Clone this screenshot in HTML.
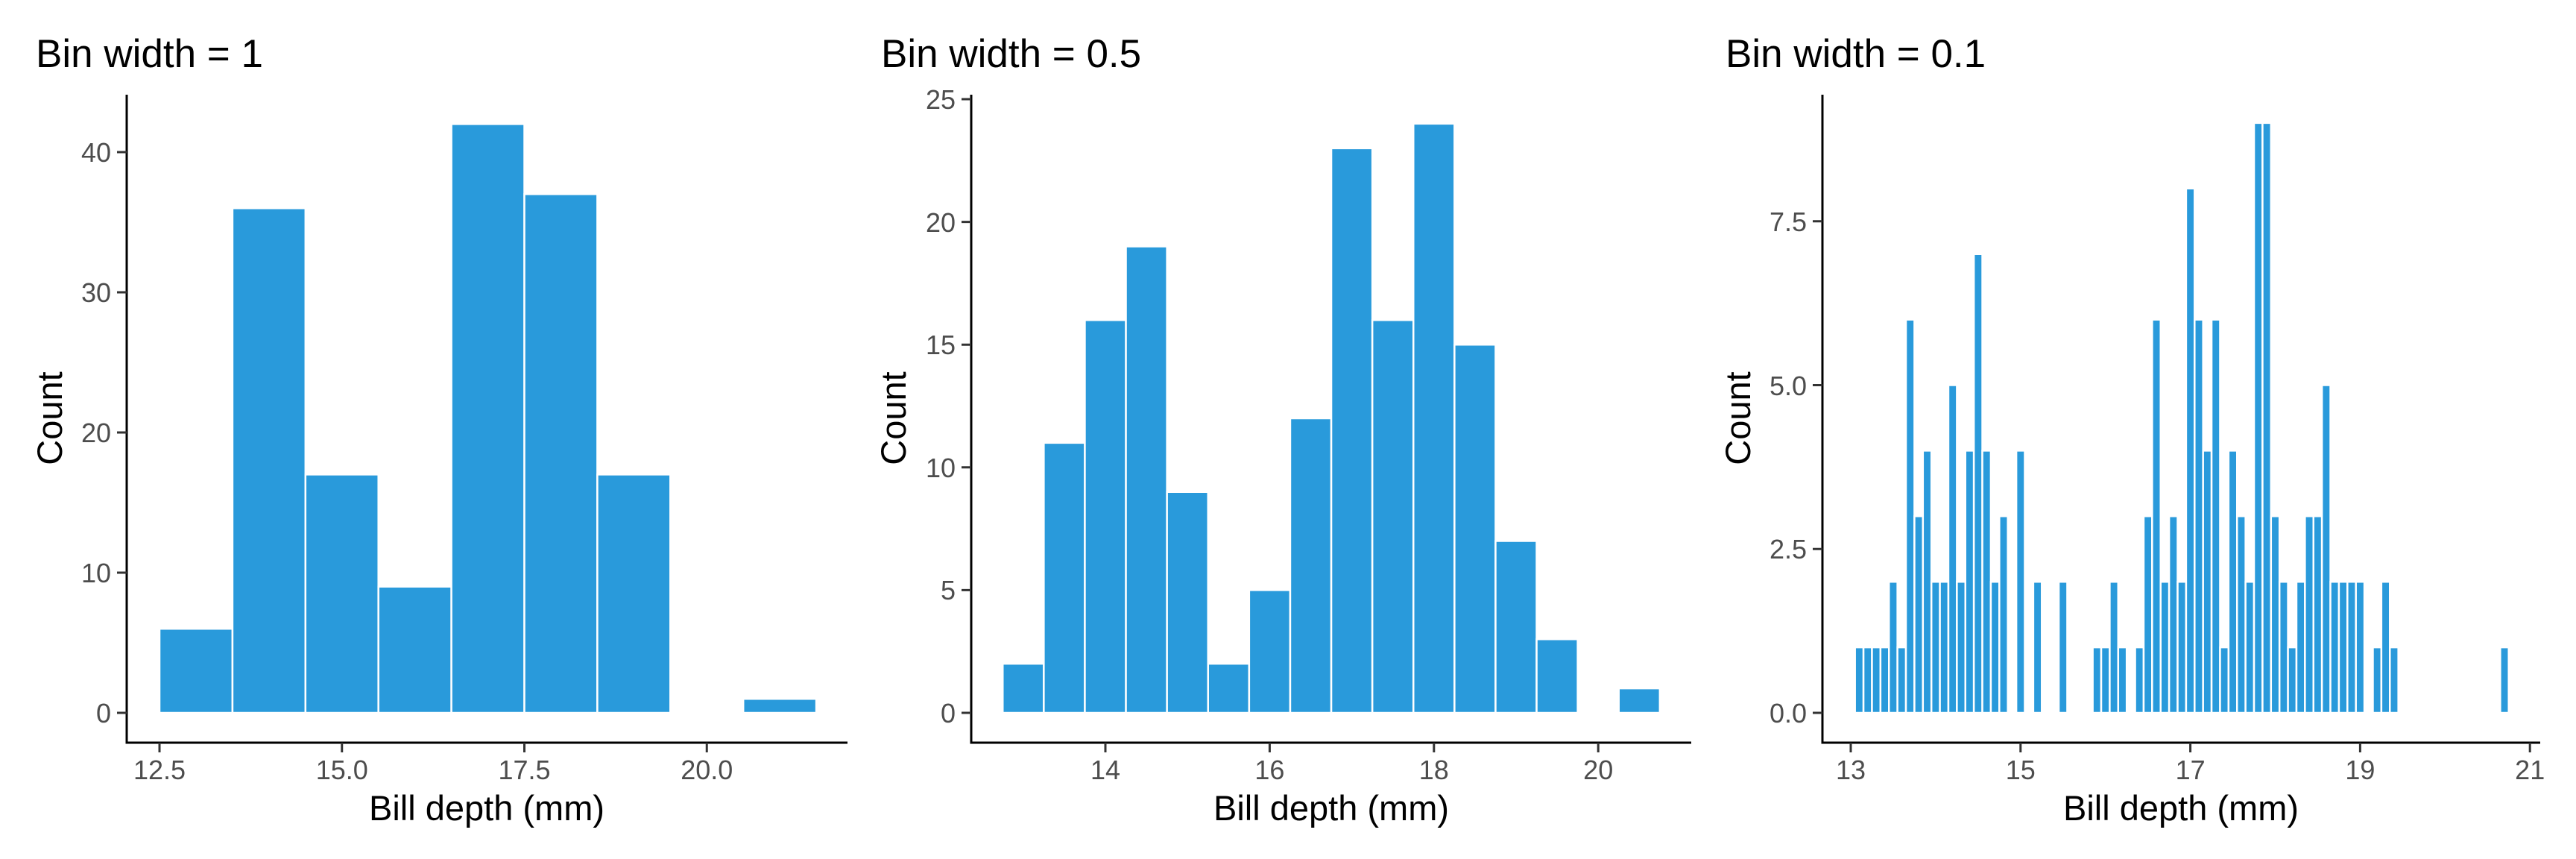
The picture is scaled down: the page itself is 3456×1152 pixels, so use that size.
<!DOCTYPE html>
<html><head><meta charset="utf-8"><style>
html,body{margin:0;padding:0;background:#fff;}
svg{display:block;}
text{font-family:"Liberation Sans",Arial,sans-serif;}
.t{font-size:36px;fill:#4d4d4d;}
.ti{font-size:53px;fill:#000;}
.ax{font-size:47px;fill:#000;}
.b rect{fill:#299ADB;stroke:#fff;stroke-width:2.5;vector-effect:non-scaling-stroke;}
.l{stroke:#000;stroke-width:3;fill:none;}
.k{stroke:#333;stroke-width:3;}
</style></head><body>
<svg width="3456" height="1152" viewBox="0 0 3456 1152" xmlns="http://www.w3.org/2000/svg">
<!-- Panel 1 -->
<text class="ti" x="48" y="90">Bin width = 1</text>
<g class="b" transform="translate(214 956) scale(97.9 -18.8)">
<rect x="0" y="0" width="1" height="6"/><rect x="1" y="0" width="1" height="36"/><rect x="2" y="0" width="1" height="17"/><rect x="3" y="0" width="1" height="9"/><rect x="4" y="0" width="1" height="42"/><rect x="5" y="0" width="1" height="37"/><rect x="6" y="0" width="1" height="17"/><rect x="8" y="0" width="1" height="1"/>
</g>
<path class="l" d="M170 127V997M168.5 996H1137"/>
<path class="k" d="M157 956H170M157 768H170M157 580H170M157 392H170M157 204H170M214 996V1009M458.75 996V1009M703.5 996V1009M948.25 996V1009"/>
<g class="t" text-anchor="end"><text x="149" y="969">0</text><text x="149" y="781">10</text><text x="149" y="593">20</text><text x="149" y="405">30</text><text x="149" y="217">40</text></g>
<g class="t" text-anchor="middle"><text x="214" y="1045">12.5</text><text x="458.75" y="1045">15.0</text><text x="703.5" y="1045">17.5</text><text x="948.25" y="1045">20.0</text></g>
<text class="ax" text-anchor="middle" x="653" y="1100">Bill depth (mm)</text>
<text class="ax" text-anchor="middle" transform="translate(83 561) rotate(-90)">Count</text>

<!-- Panel 2 -->
<text class="ti" x="1182" y="90">Bin width = 0.5</text>
<g class="b" transform="translate(1345.25 956) scale(110.2 -32.92)">
<rect x="0" y="0" width="0.5" height="2"/><rect x="0.5" y="0" width="0.5" height="11"/><rect x="1" y="0" width="0.5" height="16"/><rect x="1.5" y="0" width="0.5" height="19"/><rect x="2" y="0" width="0.5" height="9"/><rect x="2.5" y="0" width="0.5" height="2"/><rect x="3" y="0" width="0.5" height="5"/><rect x="3.5" y="0" width="0.5" height="12"/><rect x="4" y="0" width="0.5" height="23"/><rect x="4.5" y="0" width="0.5" height="16"/><rect x="5" y="0" width="0.5" height="24"/><rect x="5.5" y="0" width="0.5" height="15"/><rect x="6" y="0" width="0.5" height="7"/><rect x="6.5" y="0" width="0.5" height="3"/><rect x="7.5" y="0" width="0.5" height="1"/>
</g>
<path class="l" d="M1303 127V997M1301.5 996H2269"/>
<path class="k" d="M1290 956H1303M1290 791.4H1303M1290 626.8H1303M1290 462.2H1303M1290 297.6H1303M1290 133H1303M1483 996V1009M1703.4 996V1009M1923.8 996V1009M2144.2 996V1009"/>
<g class="t" text-anchor="end"><text x="1282" y="969">0</text><text x="1282" y="804">5</text><text x="1282" y="640">10</text><text x="1282" y="475">15</text><text x="1282" y="311">20</text><text x="1282" y="146">25</text></g>
<g class="t" text-anchor="middle"><text x="1483" y="1045">14</text><text x="1703.4" y="1045">16</text><text x="1923.8" y="1045">18</text><text x="2144.2" y="1045">20</text></g>
<text class="ax" text-anchor="middle" x="1786" y="1100">Bill depth (mm)</text>
<text class="ax" text-anchor="middle" transform="translate(1215 561) rotate(-90)">Count</text>

<!-- Panel 3 -->
<text class="ti" x="2315" y="90">Bin width = 0.1</text>
<g class="b" transform="translate(2483 956) scale(113.9 -87.9)">
<rect x="0.05" y="0" width="0.1" height="1"/><rect x="0.15" y="0" width="0.1" height="1"/><rect x="0.25" y="0" width="0.1" height="1"/><rect x="0.35" y="0" width="0.1" height="1"/><rect x="0.45" y="0" width="0.1" height="2"/><rect x="0.55" y="0" width="0.1" height="1"/><rect x="0.65" y="0" width="0.1" height="6"/><rect x="0.75" y="0" width="0.1" height="3"/><rect x="0.85" y="0" width="0.1" height="4"/><rect x="0.95" y="0" width="0.1" height="2"/>
<rect x="1.05" y="0" width="0.1" height="2"/><rect x="1.15" y="0" width="0.1" height="5"/><rect x="1.25" y="0" width="0.1" height="2"/><rect x="1.35" y="0" width="0.1" height="4"/><rect x="1.45" y="0" width="0.1" height="7"/><rect x="1.55" y="0" width="0.1" height="4"/><rect x="1.65" y="0" width="0.1" height="2"/><rect x="1.75" y="0" width="0.1" height="3"/><rect x="1.95" y="0" width="0.1" height="4"/>
<rect x="2.15" y="0" width="0.1" height="2"/><rect x="2.45" y="0" width="0.1" height="2"/><rect x="2.85" y="0" width="0.1" height="1"/><rect x="2.95" y="0" width="0.1" height="1"/>
<rect x="3.05" y="0" width="0.1" height="2"/><rect x="3.15" y="0" width="0.1" height="1"/><rect x="3.35" y="0" width="0.1" height="1"/><rect x="3.45" y="0" width="0.1" height="3"/><rect x="3.55" y="0" width="0.1" height="6"/><rect x="3.65" y="0" width="0.1" height="2"/><rect x="3.75" y="0" width="0.1" height="3"/><rect x="3.85" y="0" width="0.1" height="2"/><rect x="3.95" y="0" width="0.1" height="8"/>
<rect x="4.05" y="0" width="0.1" height="6"/><rect x="4.15" y="0" width="0.1" height="4"/><rect x="4.25" y="0" width="0.1" height="6"/><rect x="4.35" y="0" width="0.1" height="1"/><rect x="4.45" y="0" width="0.1" height="4"/><rect x="4.55" y="0" width="0.1" height="3"/><rect x="4.65" y="0" width="0.1" height="2"/><rect x="4.75" y="0" width="0.1" height="9"/><rect x="4.85" y="0" width="0.1" height="9"/><rect x="4.95" y="0" width="0.1" height="3"/>
<rect x="5.05" y="0" width="0.1" height="2"/><rect x="5.15" y="0" width="0.1" height="1"/><rect x="5.25" y="0" width="0.1" height="2"/><rect x="5.35" y="0" width="0.1" height="3"/><rect x="5.45" y="0" width="0.1" height="3"/><rect x="5.55" y="0" width="0.1" height="5"/><rect x="5.65" y="0" width="0.1" height="2"/><rect x="5.75" y="0" width="0.1" height="2"/><rect x="5.85" y="0" width="0.1" height="2"/><rect x="5.95" y="0" width="0.1" height="2"/>
<rect x="6.15" y="0" width="0.1" height="1"/><rect x="6.25" y="0" width="0.1" height="2"/><rect x="6.35" y="0" width="0.1" height="1"/><rect x="7.65" y="0" width="0.1" height="1"/>
</g>
<path class="l" d="M2445 127V997M2443.5 996H3408"/>
<path class="k" d="M2432 956H2445M2432 736.2H2445M2432 516.5H2445M2432 296.7H2445M2483 996V1009M2710.8 996V1009M2938.6 996V1009M3166.4 996V1009M3394.2 996V1009"/>
<g class="t" text-anchor="end"><text x="2424" y="969">0.0</text><text x="2424" y="749">2.5</text><text x="2424" y="530">5.0</text><text x="2424" y="310">7.5</text></g>
<g class="t" text-anchor="middle"><text x="2483" y="1045">13</text><text x="2710.8" y="1045">15</text><text x="2938.6" y="1045">17</text><text x="3166.4" y="1045">19</text><text x="3394.2" y="1045">21</text></g>
<text class="ax" text-anchor="middle" x="2926" y="1100">Bill depth (mm)</text>
<text class="ax" text-anchor="middle" transform="translate(2348 561) rotate(-90)">Count</text>
</svg>
</body></html>
